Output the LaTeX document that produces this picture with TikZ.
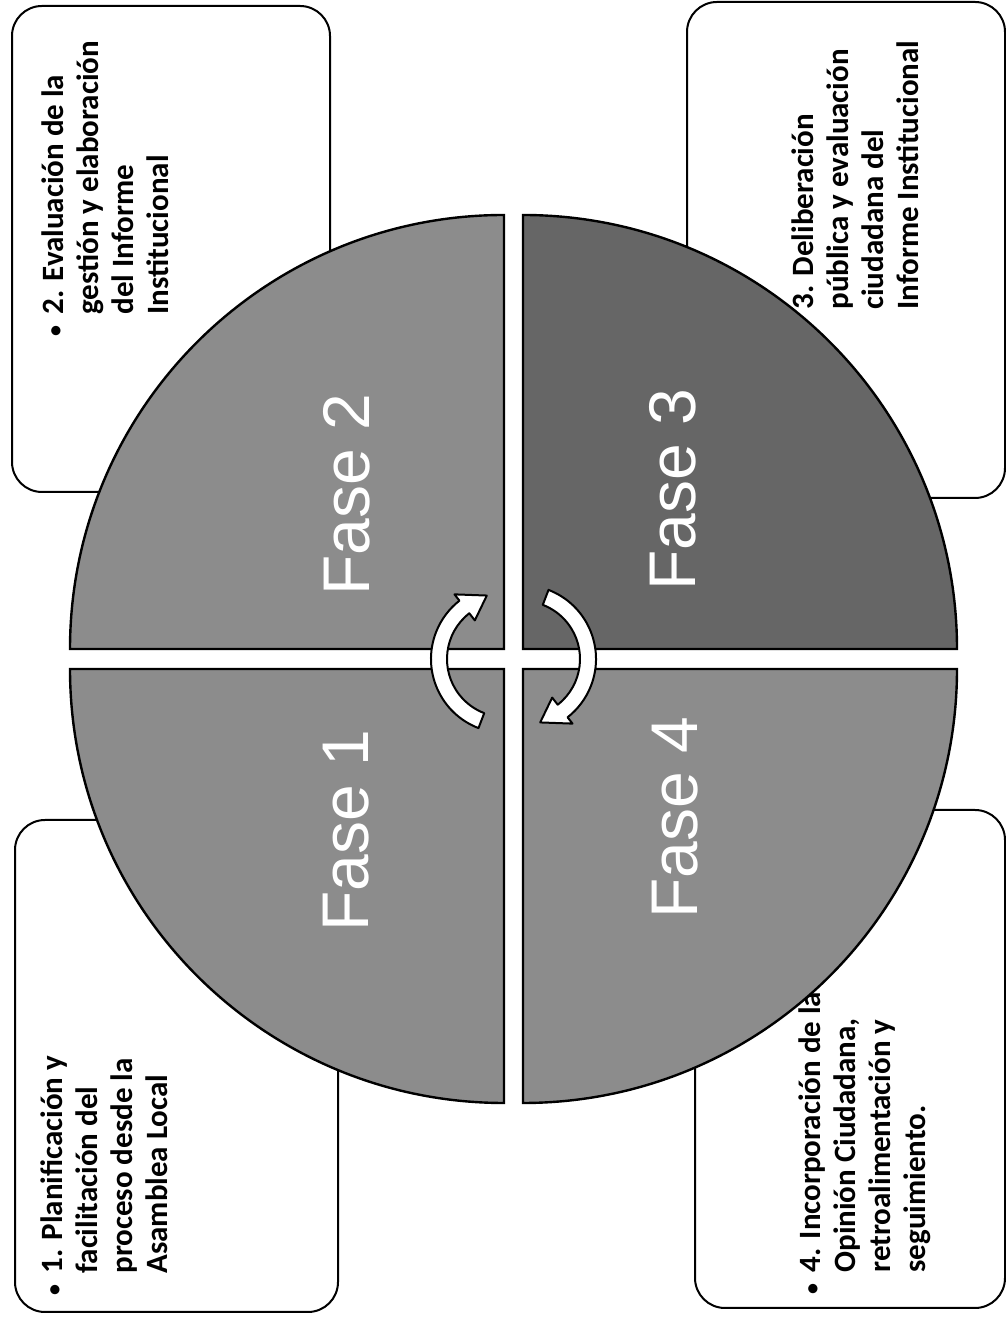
\documentclass[tikz,border=0pt]{standalone}
\usepackage{fontspec}
\setmainfont{Carlito}
\newfontfamily\fasefont{Liberation Sans}
\definecolor{quadgray}{gray}{0.55}
\definecolor{quaddark}{gray}{0.40}
\newcommand\smallbul{\makebox[11pt][l]{\raisebox{0.5pt}{\fontsize{11}{11}\selectfont •}}}
\begin{document}
\begin{tikzpicture}[x=0.5pt,y=0.5pt,
  infobox/.style={draw=black, line width=1pt, fill=white, rounded corners=15pt},
  infotext/.style={rotate=90, anchor=base west, inner sep=0pt, font=\bfseries\fontsize{15.5}{17.5}\selectfont},
  quad/.style={draw=black, line width=1.2pt},
  faselabel/.style={rotate=90, inner sep=0pt, text=white, font=\fasefont\fontsize{33}{40}\selectfont},
  cyclearrow/.style={draw=black, line width=1pt, fill=white, line join=round},
  cyc/.pic={\path[cyclearrow] (249:74) arc[start angle=249,end angle=128,radius=74]
      -- (128:82) -- (106:66) -- (128:49) -- (128:58)
      arc[start angle=128,end angle=249,radius=58] -- cycle;}]
\useasboundingbox (0,0) rectangle (1006,1317);
\fill[white] (0,0) rectangle (1006,1317);

% boxes
\draw[infobox] (15,5) rectangle (338,497);
\draw[infobox] (12,825) rectangle (330,1311);
\draw[infobox] (687,819) rectangle (1005,1315);
\draw[infobox] (695,9) rectangle (1005,507);

% box texts
\node[infotext] (t1) at (62,21) {\begin{tabular}[t]{@{}l@{}l@{}}\smallbul&1. Planificación y\\ &facilitación del\\ &proceso desde la\\ &Asamblea Local\end{tabular}};
\node[infotext] (t2) at (63,980) {\begin{tabular}[t]{@{}l@{}l@{}}\smallbul&2. Evaluación de la\\ &gestión y elaboración\\ &del Informe\\ &Institucional\end{tabular}};
\node[infotext] (t3) at (813,1007) {\begin{tabular}[t]{@{}l@{}}3. Deliberación\\ pública y evaluación\\ ciudadana del\\ Informe Institucional\end{tabular}};
\node[infotext] (t4) at (820,22) {\begin{tabular}[t]{@{}l@{}l@{}}\smallbul&4. Incorporación de la\\ &Opinión Ciudadana,\\ &retroalimentación y\\ &seguimiento.\end{tabular}};

% quadrants
\path[quad, fill=quadgray] (504,668) -- ++(0,434) arc[start angle=90,end angle=180,radius=434] -- cycle;
\path[quad, fill=quaddark] (523,668) -- ++(434,0) arc[start angle=0,end angle=90,radius=434] -- cycle;
\path[quad, fill=quadgray] (504,648) -- ++(-434,0) arc[start angle=180,end angle=270,radius=434] -- cycle;
\path[quad, fill=quadgray] (523,648) -- ++(0,-434) arc[start angle=270,end angle=360,radius=434] -- cycle;

% labels
\node[faselabel] (f1) at (346,486) {Fase 1};
\node[faselabel] (f2) at (347,822) {Fase 2};
\node[faselabel] (f3) at (673,827) {Fase 3};
\node[faselabel] (f4) at (675,499) {Fase 4};

% cycle arrows
\pic (arrL) at (505,658) {cyc};
\pic[rotate=180] (arrR) at (522,658) {cyc};
\end{tikzpicture}
\end{document}
